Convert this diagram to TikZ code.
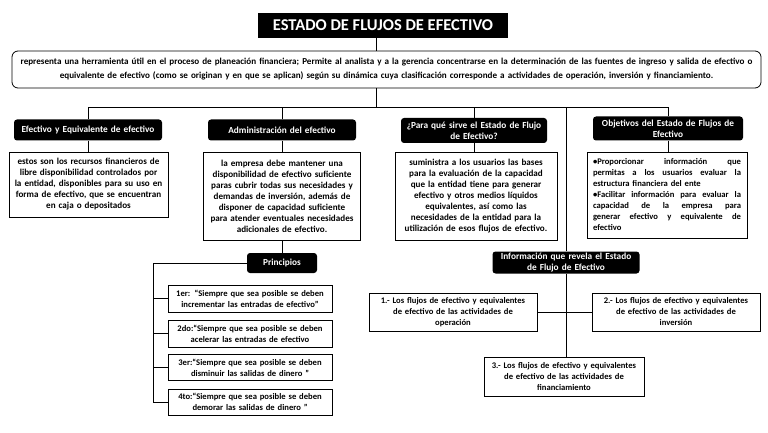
\documentclass[tikz,border=0pt]{standalone}
\usepackage{fontspec}
\setmainfont{Carlito}
\newcommand{\jline}[1]{\makebox[148pt][l]{#1}}
\tikzset{
  ln/.style={line width=0.8pt, black},
  hdr/.style={fill=black, rounded corners=3pt, text=white, font=\bfseries\fontsize{9.3}{11}\selectfont, align=center, inner xsep=0pt, inner ysep=0pt},
  tbox/.style={draw=black, line width=1pt, fill=white, font=\bfseries\fontsize{8.6}{11}\selectfont, align=center, inner xsep=0pt, inner ysep=0pt},
  big/.style={font=\bfseries\fontsize{9.1}{11}\selectfont},
  sz/.style 2 args={text width=#1pt, minimum height=#2pt},
}
\begin{document}
\begin{tikzpicture}[x=1pt, y=-1pt]
\useasboundingbox[fill=white] (0,0) rectangle (768,433);

% title
\node[fill=black, text=white, font=\bfseries\fontsize{16.5}{18}\selectfont, minimum width=250pt, minimum height=25pt, inner sep=0pt] (title) at (383,25.5) {ESTADO DE FLUJOS DE EFECTIVO};

% description
\node[draw=black, line width=0.8pt, rounded corners=6pt, font=\bfseries\fontsize{9.1}{14}\selectfont, align=center, text width=749pt, minimum height=37pt, inner xsep=0pt, inner ysep=0pt] (desc) at (386.5,69.5)
{representa una herramienta útil en el proceso de planeación financiera; Permite al analista y a la gerencia concentrarse en la determinación de las fuentes de ingreso y salida de efectivo o\\
equivalente de efectivo (como se originan y en que se aplican) según su dinámica cuya clasificación corresponde a actividades de operación, inversión y financiamiento.};

% headers
\node[hdr, sz={148}{21}] (h1) at (88,130) {Efectivo y Equivalente de efectivo};
\node[hdr, sz={148}{21}] (h2) at (282,130) {Administración del efectivo};
\node[hdr, sz={146}{25}] (h3) at (474,130.5) {¿Para qué sirve el Estado de Flujo\\ de Efectivo?};
\node[hdr, sz={150}{24}] (h4) at (668,128.5) {Objetivos del Estado de Flujos de\\ Efectivo};

% text boxes
\node[tbox, big, sz={159}{65}] (t1) at (88.5,184.5) {estos son los recursos financieros de\\ libre disponibilidad controlados por\\ la entidad, disponibles para su uso en\\ forma de efectivo, que se encuentran\\ en caja o depositados};
\node[tbox, big, sz={157}{88}] (t2) at (282,196) {la empresa debe mantener una\\ disponibilidad de efectivo suficiente\\ paras cubrir todas sus necesidades y\\ demandas de inversión, además de\\ disponer de capacidad suficiente\\ para atender eventuales necesidades\\ adicionales de efectivo.};
\node[tbox, big, sz={162}{88}] (t3) at (476,196) {suministra a los usuarios las bases\\ para la evaluación de la capacidad\\ que la entidad tiene para generar\\ efectivo y otros medios líquidos\\ equivalentes, así como las\\ necesidades de la entidad para la\\ utilización de esos flujos de efectivo.};
\node[tbox, sz={148}{86}, inner xsep=6pt, align=left] (t4) at (667,195)
{\jline{•Proporcionar\hfill información\hfill que}\\
\jline{permitas\hfill a\hfill los\hfill usuarios\hfill evaluar\hfill la}\\
\jline{estructura financiera del ente}\\
\jline{•Facilitar\hfill información\hfill para\hfill evaluar\hfill la}\\
\jline{capacidad\hfill de\hfill la\hfill empresa\hfill para}\\
\jline{generar\hfill efectivo\hfill y\hfill equivalente\hfill de}\\
\jline{efectivo}};

% principios
\node[hdr, sz={70}{20}] (pr) at (282,263) {Principios};
\node[tbox, sz={164}{27}] (p1) at (250,298.5) {1er: “Siempre que sea posible se deben\\ incrementar las entradas de efectivo”};
\node[tbox, sz={164}{27}] (p2) at (250,333.5) {2do:“Siempre que sea posible se deben\\ acelerar las entradas de efectivo};
\node[tbox, sz={164}{26}] (p3) at (250,367.5) {3er:“Siempre que sea posible se deben\\ disminuir las salidas de dinero ”};
\node[tbox, sz={164}{26}] (p4) at (250,402) {4to:“Siempre que sea posible se deben\\ demorar las salidas de dinero ”};

% informacion
\node[hdr, sz={147}{22}] (inf) at (566,262.5) {Información que revela el Estado\\ de Flujo de Efectivo};
\node[tbox, sz={168}{38}] (f1) at (453,312) {1.- Los flujos de efectivo y equivalentes\\ de efectivo de las actividades de\\ operación};
\node[tbox, sz={168}{38}] (f2) at (676,312) {2.- Los flujos de efectivo y equivalentes\\ de efectivo de las actividades de\\ inversión};
\node[tbox, sz={160}{39}] (f3) at (564,376.5) {3.- Los flujos de efectivo y equivalentes\\ de efectivo de las actividades de\\ financiamiento};

% connectors
\coordinate (c0) at (376,0);
\coordinate (busL) at (88,107);
\coordinate (busR) at (668,107);
\coordinate (pl) at (153,263);
\draw[ln] (title.south -| c0) -- (desc.north -| c0);
\draw[ln] (desc.south -| c0) -- (c0 |- busL);
\draw[ln] (busL) -- (busR);
\draw[ln] (h1.north) -- (h1.north |- busL);
\draw[ln] (h2.north) -- (h2.north |- busL);
\draw[ln] (h3.north) -- (h3.north |- busL);
\draw[ln] (h4.north) -- (h4.north |- busL);
\draw[ln] (inf.north) -- (inf.north |- busL);
\draw[ln] (h1.south) -- (t1.north -| h1.south);
\draw[ln] (h2.south) -- (t2.north -| h2.south);
\draw[ln] (h3.south) -- (t3.north -| h3.south);
\draw[ln] (h4.south) -- (t4.north -| h4.south);
\draw[ln] (t2.south -| pr.north) -- (pr.north);
\draw[ln] (pr.west) -- (pl) -- (pl |- p4.west) -- (p4.west);
\draw[ln] (p1.west) -- (p1.west -| pl);
\draw[ln] (p2.west) -- (p2.west -| pl);
\draw[ln] (p3.west) -- (p3.west -| pl);
\draw[ln] (inf.south) -- (f3.north -| inf.south);
\draw[ln] (f1.east) -- (f2.west);
\end{tikzpicture}
\end{document}
